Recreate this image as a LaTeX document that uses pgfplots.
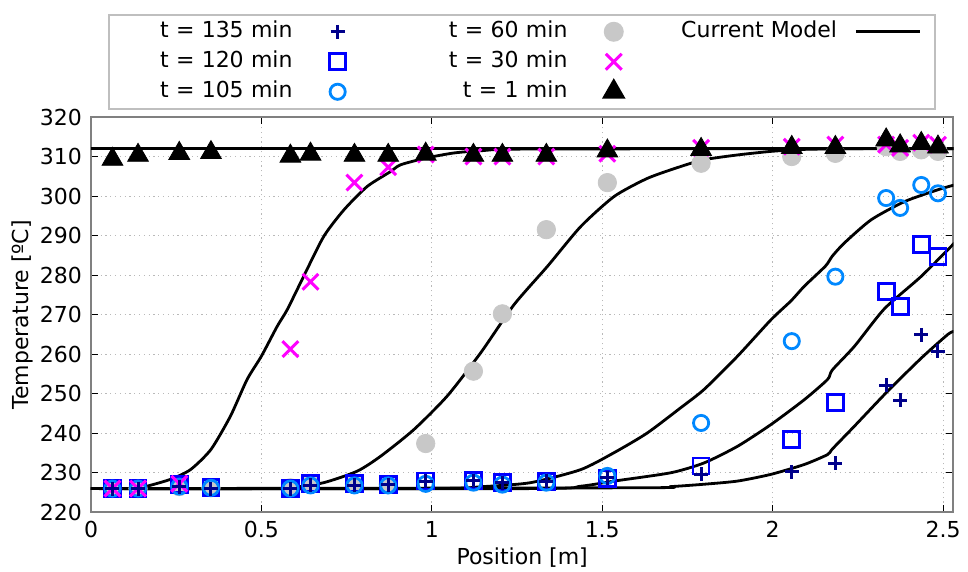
\documentclass[border=0pt]{standalone}
\usepackage{fontspec}
\setmainfont{DejaVu Sans}
\usepackage{pgfplots}
\pgfplotsset{compat=1.18}

\definecolor{c135}{RGB}{0,0,139}
\definecolor{c120}{RGB}{0,0,255}
\definecolor{c105}{RGB}{0,136,255}
\definecolor{c60}{RGB}{200,200,200}
\definecolor{c30}{RGB}{255,0,255}

\pgfplotsset{
  s135/.style={only marks, mark=+, color=c135, mark size=3.5pt, line width=1.5pt},
  s120/.style={only marks, mark=square, color=c120, mark size=4pt, line width=1.4pt},
  s105/.style={only marks, mark=o, color=c105, mark size=3.8pt, line width=1.4pt},
  s60/.style={only marks, mark=*, color=c60, mark size=4.6pt},
  s30/.style={only marks, mark=x, color=c30, mark size=5.6pt, line width=1.5pt},
  s1/.style={only marks, mark=triangle*, color=black, mark size=6pt},
  model/.style={black, line width=1.4pt, line join=round, no markers, smooth, tension=0.4},
}

\begin{document}
\begin{tikzpicture}[font=\fontsize{11}{13}\selectfont]
\path[use as bounding box] (-45.5pt,-29.85pt) rectangle (438.5pt,256.15pt);
\begin{axis}[
  at={(0,0)}, anchor=south west,
  width=431.15pt, height=197.65pt, scale only axis,
  xmin=0, xmax=2.53, ymin=220, ymax=320,
  xtick={0,0.5,1,1.5,2,2.5},
  xticklabels={0,0.5,1,1.5,2,2.5},
  ytick={220,230,...,320},
  tick align=inside, tick pos=both,
  major tick length=3.5pt,
  tick style={black, line width=0.5pt},
  grid=major,
  grid style={gray!55, line width=0.5pt, dash pattern=on 0.6pt off 1.8pt},
  axis line style={gray, line width=0.9pt},
  /pgf/number format/assume math mode=true,
  yticklabel style={xshift=-1pt},
  xticklabel style={yshift=-1pt},
  xlabel={Position [m]},
  ylabel={Temperature [ºC]},
  x label style={at={(axis description cs:0.5,0)}, anchor=center, yshift=-22.85pt},
  y label style={at={(axis description cs:-0.080,0.5)}, anchor=center},
  legend columns=3,
  legend plot pos=right,
  legend cell align=right,
  legend style={
    at={(axis description cs:0.0201,1.2606)}, anchor=north west,
    draw=gray!50, line width=0.8pt, fill=white,
    inner xsep=6.9pt, inner ysep=1pt, row sep=0pt,
    nodes={inner xsep=3.33pt, inner ysep=2.25pt, text height=8pt, text depth=2.5pt},
    /tikz/column 1/.style={text width=81.5pt, align=right, column sep=10.7pt},
    /tikz/column 2/.style={column sep=23.1pt},
    /tikz/column 3/.style={text width=80pt, align=right, column sep=11.3pt},
    /tikz/column 4/.style={column sep=21.9pt},
    /tikz/column 5/.style={column sep=5.5pt},
  },
]

% t = 60 min
\addplot[s60, forget plot] coordinates {
(0.063,226.0) (0.138,226.0) (0.259,226.5) (0.352,226.2) (0.585,226.2)
(0.644,227.2) (0.773,227.2) (0.872,227.0) (0.982,237.4) (1.122,255.7)
(1.207,270.2) (1.336,291.5) (1.515,303.4) (1.790,308.3) (2.056,310.0)
(2.184,310.8) (2.333,312.5) (2.374,311.3) (2.436,311.7) (2.485,311.3)};

% t = 120 min
\addplot[s120, forget plot] coordinates {
(0.063,226.0) (0.138,226.0) (0.259,227.0) (0.352,226.2) (0.585,226.0)
(0.644,227.2) (0.773,227.2) (0.872,227.0) (0.982,227.9) (1.122,228.1)
(1.207,227.5) (1.336,227.8) (1.515,228.5) (1.790,231.7) (2.056,238.4)
(2.184,247.8) (2.333,275.9) (2.374,272.0) (2.436,287.7) (2.485,284.7)};

% t = 105 min
\addplot[s105, forget plot] coordinates {
(0.063,226.0) (0.138,226.0) (0.259,226.5) (0.352,226.2) (0.585,226.0)
(0.644,226.8) (0.773,226.8) (0.872,226.8) (0.982,227.2) (1.122,227.5)
(1.207,227.0) (1.336,227.5) (1.515,229.2) (1.790,242.6) (2.056,263.3)
(2.184,279.6) (2.333,299.5) (2.374,297.0) (2.436,302.8) (2.485,300.7)};

% t = 30 min
\addplot[s30, forget plot] coordinates {
(0.063,226.0) (0.138,226.0) (0.259,227.2) (0.585,261.3) (0.644,278.3)
(0.773,303.4) (0.872,307.3) (0.982,310.5) (1.122,310.0) (1.207,310.0)
(1.336,310.0) (1.515,310.7) (1.790,312.2) (2.056,312.5) (2.184,313.0)
(2.333,313.0) (2.374,312.2) (2.436,313.5) (2.485,313.0)};

% t = 135 min
\addplot[s135, forget plot] coordinates {
(0.063,226.0) (0.138,226.0) (0.259,226.5) (0.352,226.0) (0.585,226.0)
(0.644,226.8) (0.773,226.8) (0.872,227.0) (0.982,227.9) (1.122,228.0)
(1.207,227.5) (1.336,227.8) (1.515,228.8) (1.790,229.6) (2.056,230.2)
(2.184,232.4) (2.333,252.1) (2.374,248.3) (2.436,264.9) (2.485,260.7)};

% t = 1 min
\addplot[s1, forget plot] coordinates {
(0.063,309.3) (0.138,310.3) (0.259,310.8) (0.352,311.0) (0.585,310.1)
(0.644,310.6) (0.773,310.3) (0.872,310.3) (0.982,310.6) (1.122,310.3)
(1.207,310.3) (1.336,310.3) (1.515,311.4) (1.790,311.8) (2.056,312.3)
(2.184,312.3) (2.333,314.2) (2.374,312.7) (2.436,313.3) (2.485,312.4)};

% model curves
\addplot[model, forget plot] coordinates {(0,312.0) (2.53,312.0)};
\addplot[model, forget plot] coordinates {
(0,226.0) (0.100,226.0) (0.145,226.2) (0.232,228.3) (0.292,230.8) (0.352,235.9)
(0.409,244.3) (0.458,253.6) (0.500,259.5) (0.546,267.0) (0.576,271.3)
(0.624,279.7) (0.683,289.8) (0.742,296.5) (0.810,302.4) (0.879,306.2)
(0.908,307.9) (0.982,309.6) (1.065,310.9) (1.150,311.5) (1.300,311.9) (2.53,312.0)};
\addplot[model, forget plot] coordinates {
(0,226.0) (0.500,226.0) (0.585,226.2) (0.683,227.5) (0.781,230.4) (0.850,234.2)
(0.947,240.9) (1.045,249.4) (1.143,260.3) (1.241,272.5) (1.339,282.2)
(1.437,292.3) (1.535,299.9) (1.633,304.5) (1.731,307.5) (1.799,309.2)
(1.897,310.4) (1.995,311.3) (2.090,311.8) (2.250,312.0) (2.53,312.0)};
\addplot[model, forget plot] coordinates {
(0,226.0) (1.000,226.0) (1.150,226.5) (1.290,227.5) (1.437,230.8) (1.535,235.1)
(1.631,240.0) (1.731,246.5) (1.799,251.1) (1.897,259.5) (1.995,268.7)
(2.054,273.5) (2.093,277.2) (2.155,282.3) (2.175,284.8) (2.210,288.1)
(2.289,294.0) (2.387,298.6) (2.485,301.6) (2.533,302.8)};
\addplot[model, forget plot] coordinates {
(0,226.0) (1.300,226.0) (1.437,226.6) (1.535,227.9) (1.701,230.0) (1.799,232.5)
(1.897,236.7) (1.995,242.2) (2.093,248.5) (2.161,253.6) (2.175,256.0)
(2.240,262.0) (2.328,271.5) (2.436,279.7) (2.533,288.1)};
\addplot[model, forget plot] coordinates {
(0,226.0) (1.600,226.2) (1.701,226.5) (1.799,227.1) (1.897,227.9) (1.995,229.6)
(2.093,232.1) (2.161,234.6) (2.175,236.0) (2.240,241.8) (2.337,250.6)
(2.436,259.0) (2.514,265.0) (2.533,265.8)};

% legend, row by row; each image drawn explicitly
\addlegendimage{legend image code/.code={\path[draw=none] (0pt,0pt) -- (17pt,0pt);
  \draw[c135, line width=1.5pt] plot[only marks, mark=+, mark size=3.5pt] coordinates {(8.5pt,0pt)};}}
\addlegendentry{t = 135 min}
\addlegendimage{legend image code/.code={\path[draw=none] (0pt,0pt) -- (17pt,0pt);
  \draw[c60, fill=c60] plot[only marks, mark=*, mark size=4.6pt] coordinates {(8.5pt,0pt)};}}
\addlegendentry{t = 60 min}
\addlegendimage{legend image code/.code={\draw[black, line width=1.4pt] (0pt,0pt) -- (32pt,0pt);}}
\addlegendentry{Current Model}
\addlegendimage{legend image code/.code={\path[draw=none] (0pt,0pt) -- (17pt,0pt);
  \draw[c120, line width=1.4pt] plot[only marks, mark=square, mark size=4pt] coordinates {(8.5pt,0pt)};}}
\addlegendentry{t = 120 min}
\addlegendimage{legend image code/.code={\path[draw=none] (0pt,0pt) -- (17pt,0pt);
  \draw[c30, line width=1.5pt] plot[only marks, mark=x, mark size=5.6pt] coordinates {(8.5pt,0pt)};}}
\addlegendentry{t = 30 min}
\addlegendimage{empty legend}
\addlegendentry{}
\addlegendimage{legend image code/.code={\path[draw=none] (0pt,0pt) -- (17pt,0pt);
  \draw[c105, line width=1.4pt] plot[only marks, mark=o, mark size=3.8pt] coordinates {(8.5pt,0pt)};}}
\addlegendentry{t = 105 min}
\addlegendimage{legend image code/.code={\path[draw=none] (0pt,0pt) -- (17pt,0pt);
  \draw[black, fill=black] plot[only marks, mark=triangle*, mark size=6pt] coordinates {(8.5pt,0pt)};}}
\addlegendentry{t = 1 min}
\addlegendimage{empty legend}
\addlegendentry{}
\end{axis}
\end{tikzpicture}
\end{document}
